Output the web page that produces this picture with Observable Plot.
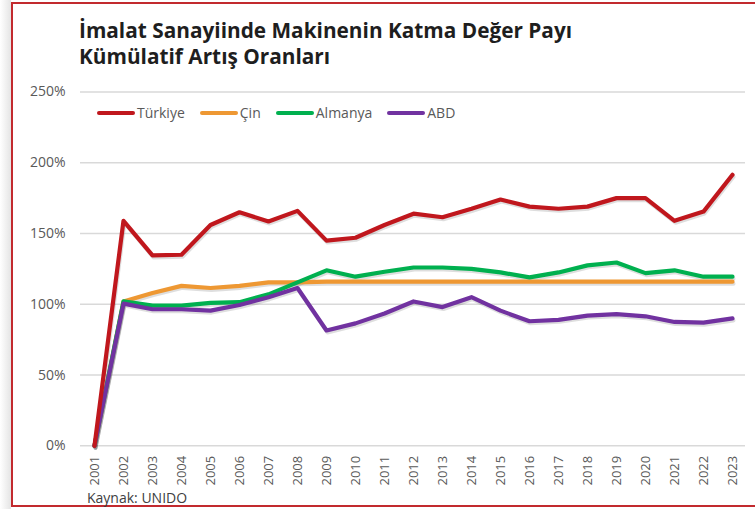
<!DOCTYPE html>
<html><head><meta charset="utf-8">
<script src="https://cdn.jsdelivr.net/npm/d3@7"></script>
<script src="https://cdn.jsdelivr.net/npm/@observablehq/plot@0.6"></script>
<style>
body{margin:0;background:#fff;}
#wrap{position:relative;width:755px;height:509px;overflow:hidden;background:#fff;font-family:"Open Sans",sans-serif;}
#shadow{position:absolute;left:0;top:0;width:11px;height:509px;background:linear-gradient(to right,#ffffff,#e4e4e4);}
#frame{position:absolute;left:11px;top:2px;width:800px;height:505px;border:2px solid #c22a2e;box-sizing:border-box;}
#title{position:absolute;left:79px;top:17px;font-size:20.8px;font-weight:700;line-height:26px;color:#1e1e1e;white-space:nowrap;}
#chart{position:absolute;left:0;top:80px;}
#legend{position:absolute;left:97px;top:103px;display:flex;gap:15px;font-size:14px;color:#595959;line-height:20px;}
#legend .item{display:flex;align-items:center;}
#legend .sw{width:38px;height:4.5px;border-radius:2px;margin-right:2px;}
#caption{position:absolute;left:87px;top:488px;font-size:14px;line-height:19px;color:#404040;}
</style></head>
<body>
<div id="wrap">
  <div id="shadow"></div>
  <div id="frame"></div>
  <div id="title"></div>
  <div id="chart"></div>
  <div id="legend"></div>
  <div id="caption"></div>
</div>
<script>
const titleLines = ["İmalat Sanayiinde Makinenin Katma Değer Payı", "Kümülatif Artış Oranları"];
const caption = "Kaynak: UNIDO";
const years = [2001,2002,2003,2004,2005,2006,2007,2008,2009,2010,2011,2012,2013,2014,2015,2016,2017,2018,2019,2020,2021,2022,2023];
const turkiye = [0,159,134.5,135,156,165,158.5,166,145,147,156,164,161.5,167.5,174,169,167.5,169,175,175,159,165.5,191.5];
const cin     = [0,102,108,113,111.5,113,115.5,115.5,116,116,116,116,116,116,116,116,116,116,116,116,116,116,116];
const almanya = [0,102,99,99,101,101.5,107,115.5,124,119.5,123,126,126,125,122.5,119,122.5,127.5,129.5,122,124,119.5,119.5];
const abd     = [0,100.5,96.5,96.5,95.5,99.5,105,111.5,81.5,86.5,93.5,102,98,105,95.5,88,89,92,93,91.5,87.5,87,90];
const seriesNames = ["Türkiye","Çin","Almanya","ABD"];
const seriesColors = ["#c0171d","#ee9833","#00b04f","#7132a0"];
const yTicks = [0,50,100,150,200,250];

const seriesValues = {"Türkiye": turkiye, "Çin": cin, "Almanya": almanya, "ABD": abd};
const drawOrder = ["Çin","Almanya","ABD","Türkiye"];
const rows = drawOrder.flatMap(s => years.map((yr, i) => ({year: yr, value: seriesValues[s][i], series: s})));

document.getElementById("title").innerHTML = titleLines.join("<br>");
document.getElementById("caption").textContent = caption;
const legend = document.getElementById("legend");
seriesNames.forEach((s, i) => {
  const it = document.createElement("div"); it.className = "item";
  const sw = document.createElement("span"); sw.className = "sw"; sw.style.background = seriesColors[i];
  const tx = document.createElement("span"); tx.textContent = s;
  it.appendChild(sw); it.appendChild(tx); legend.appendChild(it);
});

const chart = Plot.plot({
  width: 755, height: 420,
  marginTop: 11.5, marginBottom: 54.7, marginLeft: 80, marginRight: 10,
  style: {fontFamily: "'Open Sans', sans-serif", background: "transparent", overflow: "visible"},
  x: {type: "point", domain: years, padding: 0.46, label: null},
  y: {domain: [0, 250], label: null},
  color: {domain: seriesNames, range: seriesColors},
  marks: [
    Plot.gridY(yTicks, {stroke: "#d9d9d9", strokeOpacity: 1, strokeWidth: 1.4}),
    Plot.axisY(yTicks, {tickSize: 0, tickPadding: 15, tickFormat: d => d + "%", fontSize: 14, fill: "#595959", label: null}),
    Plot.axisX(years, {tickSize: 0, tickRotate: -90, tickPadding: 10, tickFormat: d => String(d), fontSize: 13, fill: "#595959", label: null}),
    Plot.line(rows, {x: "year", y: "value", z: "series", stroke: "#000", strokeOpacity: 0.13, strokeWidth: 4, dx: 1, dy: 2}),
    Plot.line(rows, {x: "year", y: "value", z: "series", stroke: "series", strokeWidth: 4.2})
  ]
});
document.getElementById("chart").appendChild(chart);
</script>
</body></html>
